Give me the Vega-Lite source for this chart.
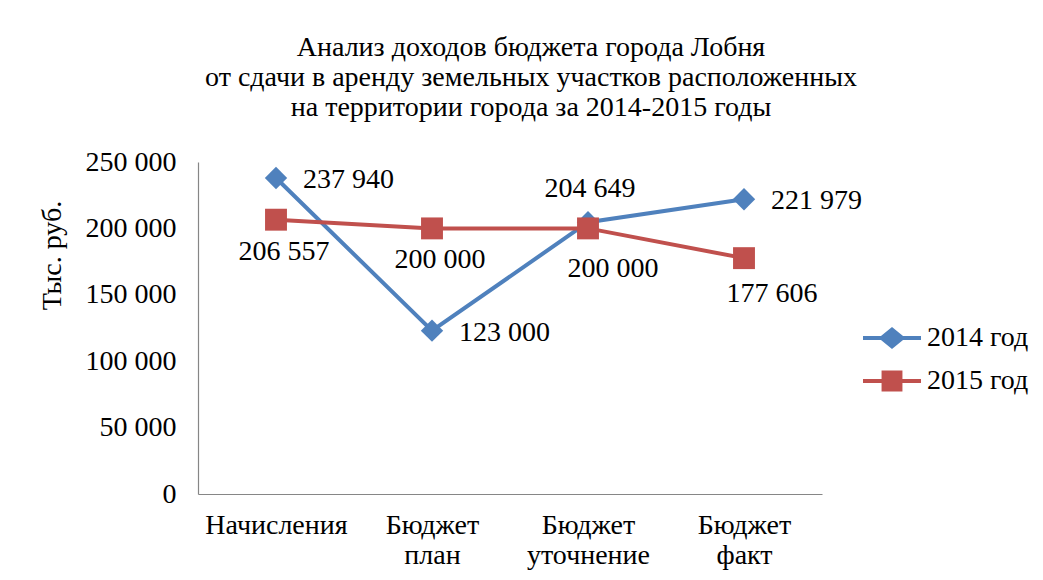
{
  "$schema": "https://vega.github.io/schema/vega-lite/v6.json",
  "autosize": "none",
  "width": 624,
  "height": 332,
  "padding": {"left": 198, "top": 162, "right": 221, "bottom": 86},
  "background": "white",
  "config": {
    "locale": {"number": {"decimal": ",", "thousands": " ", "grouping": [3], "currency": ["", ""]}},
    "font": "Liberation Serif",
    "view": {"stroke": null}
  },
  "title": {
    "text": ["Анализ доходов бюджета города Лобня", "от сдачи в аренду земельных участков расположенных", "на территории  города за 2014-2015 годы"],
    "font": "Liberation Serif",
    "fontSize": 28,
    "fontWeight": "normal",
    "color": "black",
    "lineHeight": 30,
    "anchor": "middle",
    "frame": "group",
    "dx": 21,
    "offset": 26
  },
  "data": {
    "values": [
      {"cat": "Начисления", "year": "2014 год", "value": 237940},
      {"cat": "Бюджет план", "year": "2014 год", "value": 123000},
      {"cat": "Бюджет уточнение", "year": "2014 год", "value": 204649},
      {"cat": "Бюджет факт", "year": "2014 год", "value": 221979},
      {"cat": "Начисления", "year": "2015 год", "value": 206557},
      {"cat": "Бюджет план", "year": "2015 год", "value": 200000},
      {"cat": "Бюджет уточнение", "year": "2015 год", "value": 200000},
      {"cat": "Бюджет факт", "year": "2015 год", "value": 177606}
    ]
  },
  "encoding": {
    "x": {
      "field": "cat", "type": "nominal",
      "sort": ["Начисления", "Бюджет план", "Бюджет уточнение", "Бюджет факт"],
      "scale": {"type": "point", "padding": 0.5},
      "axis": {
        "title": null, "labelAngle": 0, "ticks": false, "grid": false,
        "domainColor": "#868686", "domainWidth": 1.2,
        "labelFont": "Liberation Serif", "labelFontSize": 28, "labelColor": "black",
        "labelPadding": 17, "labelLineHeight": 30,
        "labelExpr": "split(datum.label, ' ')"
      }
    },
    "y": {
      "field": "value", "type": "quantitative",
      "scale": {"domain": [0, 250000], "nice": false},
      "axis": {
        "title": "Тыс. руб.", "values": [0, 50000, 100000, 150000, 200000, 250000],
        "format": ",d", "ticks": false, "grid": false,
        "domainColor": "#868686", "domainWidth": 1.2,
        "labelFont": "Liberation Serif", "labelFontSize": 28, "labelColor": "black",
        "labelPadding": 22,
        "titleFont": "Liberation Serif", "titleFontSize": 28, "titleFontWeight": "normal", "titleColor": "black",
        "titleAngle": -90, "titleX": -146, "titleY": 93, "titleAlign": "center", "titleBaseline": "middle"
      }
    },
    "color": {
      "field": "year", "type": "nominal",
      "scale": {"domain": ["2014 год", "2015 год"], "range": ["#4F81BD", "#C0504D"]},
      "legend": {
        "title": null, "orient": "none", "legendX": 665, "legendY": 147,
        "padding": 0, "symbolSize": 3364, "symbolOpacity": 1, "symbolStrokeWidth": 0,
        "labelFont": "Liberation Serif", "labelFontSize": 28, "labelColor": "black",
        "labelOffset": 6, "rowPadding": -13
      }
    }
  },
  "layer": [
    {
      "mark": {"type": "line", "strokeWidth": 4},
      "encoding": {}
    },
    {
      "mark": {"type": "point", "filled": true, "opacity": 0, "size": 10},
      "encoding": {
        "shape": {
          "field": "year", "type": "nominal",
          "scale": {"domain": ["2014 год", "2015 год"], "range": ["M-1,-0.07H-0.38L0,-0.38L0.38,-0.07H1V0.07H0.38L0,0.38L-0.38,0.07H-1Z", "M-1,-0.07H-0.36V-0.36H0.36V-0.07H1V0.07H0.36V0.36H-0.36V0.07H-1Z"]},
          "legend": null
        }
      }
    },
    {
      "transform": [{"filter": "datum.year == '2014 год'"}],
      "mark": {"type": "point", "filled": true, "opacity": 1, "size": 500, "shape": "diamond"},
      "encoding": {}
    },
    {
      "transform": [{"filter": "datum.year == '2015 год'"}],
      "mark": {"type": "point", "filled": true, "opacity": 1, "size": 480, "shape": "square"},
      "encoding": {}
    },
    {
      "transform": [{"filter": "datum.year == '2014 год' && datum.cat != 'Бюджет уточнение'"}],
      "mark": {"type": "text", "align": "left", "baseline": "middle", "dx": 27, "dy": 2, "fontSize": 28, "font": "Liberation Serif"},
      "encoding": {"text": {"field": "value", "format": ",d"}, "color": {"value": "black"}}
    },
    {
      "transform": [{"filter": "datum.year == '2014 год' && datum.cat == 'Бюджет уточнение'"}],
      "mark": {"type": "text", "align": "center", "baseline": "middle", "dx": 2, "dy": -33, "fontSize": 28, "font": "Liberation Serif"},
      "encoding": {"text": {"field": "value", "format": ",d"}, "color": {"value": "black"}}
    },
    {
      "transform": [{"filter": "datum.year == '2015 год' && (datum.cat == 'Начисления' || datum.cat == 'Бюджет план')"}],
      "mark": {"type": "text", "align": "center", "baseline": "middle", "dx": 8, "dy": 32, "fontSize": 28, "font": "Liberation Serif"},
      "encoding": {"text": {"field": "value", "format": ",d"}, "color": {"value": "black"}}
    },
    {
      "transform": [{"filter": "datum.year == '2015 год' && datum.cat == 'Бюджет уточнение'"}],
      "mark": {"type": "text", "align": "center", "baseline": "middle", "dx": 25, "dy": 41, "fontSize": 28, "font": "Liberation Serif"},
      "encoding": {"text": {"field": "value", "format": ",d"}, "color": {"value": "black"}}
    },
    {
      "transform": [{"filter": "datum.year == '2015 год' && datum.cat == 'Бюджет факт'"}],
      "mark": {"type": "text", "align": "center", "baseline": "middle", "dx": 28, "dy": 36, "fontSize": 28, "font": "Liberation Serif"},
      "encoding": {"text": {"field": "value", "format": ",d"}, "color": {"value": "black"}}
    }
  ]
}
